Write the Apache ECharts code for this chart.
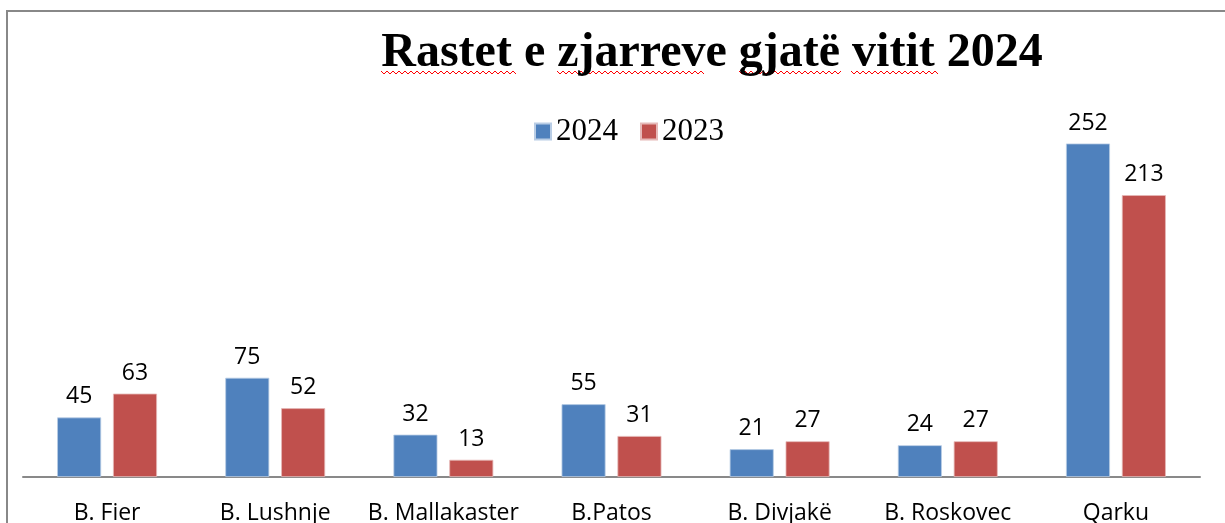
<!DOCTYPE html>
<html><head><meta charset="utf-8">
<script src="https://cdn.jsdelivr.net/npm/echarts@6/dist/echarts.min.js"></script>
<style>html,body{margin:0;padding:0;background:#fff}#c{width:1225px;height:523px}</style>
</head><body><div id="c"></div>
<script>
const categories = ['B. Fier', 'B. Lushnje', 'B. Mallakaster', 'B.Patos', 'B. Divjakë', 'B. Roskovec', 'Qarku'];
const values2024 = [45, 75, 32, 55, 21, 24, 252];
const values2023 = [63, 52, 13, 31, 27, 27, 213];
const seriesNames = ['2024', '2023'];
const titleText = 'Rastet e zjarreve gjatë vitit 2024';

function wavy(x1, x2, y) {
  const pts = [];
  let up = true;
  for (let x = x1; x <= x2; x += 3) { pts.push([x, up ? y : y + 3]); up = !up; }
  return { type: 'polyline', shape: { points: pts }, style: { stroke: '#ff0000', lineWidth: 1, fill: null }, silent: true };
}

const chart = echarts.init(document.getElementById('c'));
const labelStyle = { show: true, position: 'top', distance: 9, fontFamily: 'Open Sans', fontSize: 23, color: '#000' };
chart.setOption({
  animation: false,
  title: {
    text: titleText, left: 707, top: 25, textAlign: 'center',
    textStyle: { fontFamily: '"Liberation Serif","Times New Roman",serif', fontWeight: 'bold', fontSize: 48, color: '#000' }
  },
  legend: {
    data: seriesNames, left: 529, top: 111, itemWidth: 16, itemHeight: 16, itemGap: 22, icon: 'rect',
    textStyle: { fontFamily: '"Liberation Serif","Times New Roman",serif', fontSize: 31, color: '#000', padding: [0, 0, 0, 0] }
  },
  grid: { left: 23, right: 25, top: 80, bottom: 46, containLabel: false, outerBoundsMode: 'none' },
  xAxis: {
    type: 'category', data: categories,
    axisLine: { lineStyle: { color: '#898989', width: 2 } },
    axisTick: { show: false },
    axisLabel: { margin: 25, fontFamily: 'Open Sans', fontSize: 23, color: '#000', interval: 0 }
  },
  yAxis: { type: 'value', min: 0, max: 300, show: false, splitLine: { show: false } },
  series: [
    { name: seriesNames[0], type: 'bar', data: values2024, barWidth: 44, barGap: '27%',
      itemStyle: { color: '#4F81BD', borderColor: '#b9cde5', borderWidth: 0.8 }, label: labelStyle },
    { name: seriesNames[1], type: 'bar', data: values2023, barWidth: 44,
      itemStyle: { color: '#C0504D', borderColor: '#e6b9b8', borderWidth: 0.8 }, label: labelStyle }
  ],
  graphic: [
    { type: 'rect', shape: { x: 7, y: 11, width: 1400, height: 700 }, style: { fill: null, stroke: '#888', lineWidth: 2 }, silent: true, z: -1 },
    wavy(381, 517, 71), wavy(557, 705, 71), wavy(739, 843, 71), wavy(851, 938, 71)
  ]
});
</script></body></html>
